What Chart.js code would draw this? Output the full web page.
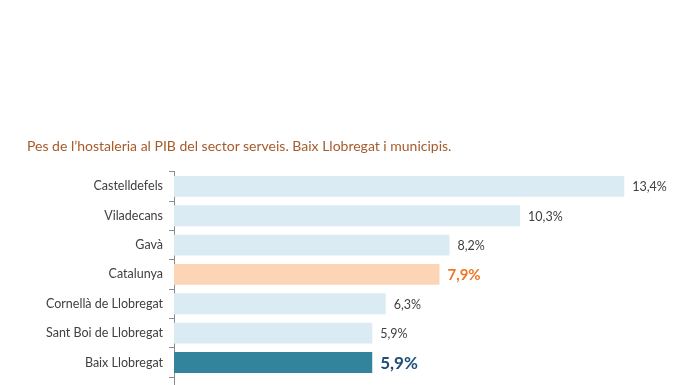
<!DOCTYPE html>
<html lang="ca">
<head>
  <meta charset="UTF-8">
  <title>Pes de l'hostaleria al PIB</title>
  <script src="https://cdn.jsdelivr.net/npm/chart.js"></script>
  <style>
    html, body { margin: 0; padding: 0; background: #fff; overflow: hidden; }
    .wrap { position: relative; width: 696px; height: 385px; overflow: hidden; }
    #title {
      position: absolute; left: 27px; top: 137px;
      font-family: Lato, sans-serif; font-size: 14px; color: #A65A2A;
      white-space: nowrap;
    }
    #chart { position: absolute; left: 0; top: 0; }
  </style>
</head>
<body>
  <div class="wrap">
    <canvas id="chart" width="696" height="420"></canvas>
    <div id="title">Pes de l’hostaleria al PIB del sector serveis. Baix Llobregat i municipis.</div>
  </div>

  <script>
    // last row is cut off by the bottom of the picture
    const labels = ['Castelldefels', 'Viladecans', 'Gavà', 'Catalunya', 'Cornellà de Llobregat', 'Sant Boi de Llobregat', 'Baix Llobregat', ''];
    const values = [13.4, 10.3, 8.2, 7.9, 6.3, 5.9, 5.9, null];
    const barColors = ['#DAEBF3', '#DAEBF3', '#DAEBF3', '#FBD5B5', '#DAEBF3', '#DAEBF3', '#31849B', '#DAEBF3'];

    // value labels drawn next to each bar end
    const valueLabels = {
      id: 'valueLabels',
      afterDatasetsDraw(chart) {
        const ctx = chart.ctx;
        const meta = chart.getDatasetMeta(0);
        ctx.save();
        ctx.textBaseline = 'middle';
        ctx.textAlign = 'left';
        meta.data.forEach((bar, i) => {
          const v = values[i];
          if (v === null) return;
          let font = '12.5px Lato, sans-serif';
          let color = '#404040';
          if (labels[i] === 'Catalunya') {
            font = 'bold 15px Lato, sans-serif';
            color = '#F07526';
          } else if (labels[i] === 'Baix Llobregat') {
            font = 'bold 17px Lato, sans-serif';
            color = '#1F4E79';
          }
          ctx.font = font;
          ctx.fillStyle = color;
          ctx.fillText(v.toFixed(1).replace('.', ',') + '%', bar.x + 8, bar.y + 1);
        });
        ctx.restore();
      }
    };

    const ctx = document.getElementById('chart').getContext('2d');
    new Chart(ctx, {
      type: 'bar',
      data: {
        labels: labels,
        datasets: [{
          data: values,
          backgroundColor: barColors,
          borderWidth: 0,
          categoryPercentage: 1,
          barPercentage: 0.71
        }]
      },
      options: {
        indexAxis: 'y',
        responsive: false,
        animation: false,
        layout: { padding: { top: 171.7, bottom: 10.7, right: 18, left: 0 } },
        plugins: {
          legend: { display: false },
          tooltip: { enabled: false }
        },
        scales: {
          x: {
            display: false,
            min: 0,
            max: 15
          },
          y: {
            afterFit(scale) { scale.width = 174; },
            border: { display: true, color: '#8C8C8C', width: 1 },
            grid: {
              offset: true,
              drawOnChartArea: false,
              drawTicks: true,
              tickLength: 5,
              color: '#8C8C8C'
            },
            ticks: {
              padding: 6,
              color: '#404040',
              font: { family: 'Lato, sans-serif', size: 12.5 }
            }
          }
        }
      },
      plugins: [valueLabels]
    });
  </script>
</body>
</html>
